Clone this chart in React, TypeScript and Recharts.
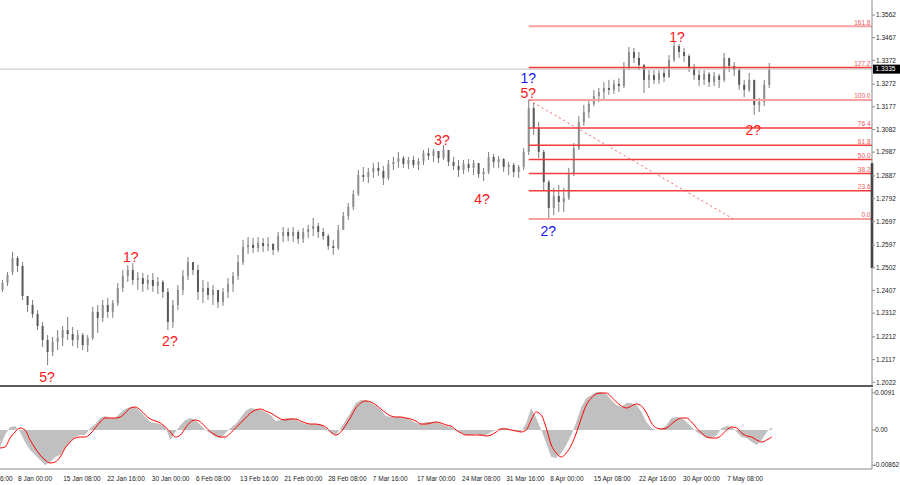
import React from "react";
import { ComposedChart, Bar, Line, Area, XAxis, YAxis, ReferenceLine, ReferenceDot } from "recharts";

// H4 chart, aggregated candles; slots across the plot width (empty space on the right)
const SLOTS = 174;

const opens = [
  1.2409, 1.2438, 1.2484, 1.2543, 1.2510, 1.2384, 1.2346, 1.2308, 1.2258, 1.2199,
  1.2149, 1.2191, 1.2208, 1.2241, 1.2224, 1.2199, 1.2220, 1.2178, 1.2208, 1.2317,
  1.2292, 1.2346, 1.2317, 1.2354, 1.2417, 1.2468, 1.2493, 1.2451, 1.2459, 1.2434,
  1.2451, 1.2426, 1.2443, 1.2401, 1.2275, 1.2346, 1.2409, 1.2468, 1.2526, 1.2493,
  1.2401, 1.2417, 1.2388, 1.2409, 1.2359, 1.2401, 1.2434, 1.2468, 1.2526, 1.2589,
  1.2598, 1.2585, 1.2606, 1.2593, 1.2602, 1.2577, 1.2635, 1.2652, 1.2635, 1.2652,
  1.2623, 1.2652, 1.2665, 1.2677, 1.2652, 1.2635, 1.2593, 1.2585, 1.2661, 1.2719,
  1.2757, 1.2811, 1.2891, 1.2883, 1.2904, 1.2921, 1.2908, 1.2879, 1.2937, 1.2946,
  1.2962, 1.2937, 1.2954, 1.2933, 1.2950, 1.2983, 1.2971, 1.2992, 1.2962, 1.2996,
  1.2946, 1.2929, 1.2912, 1.2937, 1.2921, 1.2941, 1.2895, 1.2904, 1.2967, 1.2946,
  1.2958, 1.2925, 1.2933, 1.2904, 1.2925, 1.2988, 1.3172, 1.3088, 1.2988, 1.2862,
  1.2753, 1.2803, 1.2778, 1.2795, 1.2895, 1.3004, 1.3113, 1.3155, 1.3189, 1.3222,
  1.3239, 1.3256, 1.3248, 1.3273, 1.3264, 1.3340, 1.3407, 1.3382, 1.3352, 1.3290,
  1.3310, 1.3290, 1.3319, 1.3302, 1.3373, 1.3432, 1.3407, 1.3390, 1.3340, 1.3310,
  1.3290, 1.3315, 1.3281, 1.3306, 1.3290, 1.3382, 1.3348, 1.3331, 1.3269, 1.3248,
  1.3290, 1.3185, 1.3197, 1.3269,
];
const highs = [
  1.2451, 1.2484, 1.2568, 1.2551, 1.2526, 1.2384, 1.2367, 1.2325, 1.2275, 1.2220,
  1.2212, 1.2241, 1.2258, 1.2296, 1.2254, 1.2241, 1.2229, 1.2220, 1.2338, 1.2346,
  1.2367, 1.2375, 1.2367, 1.2438, 1.2493, 1.2514, 1.2522, 1.2484, 1.2480, 1.2472,
  1.2480, 1.2463, 1.2451, 1.2417, 1.2367, 1.2430, 1.2493, 1.2547, 1.2526, 1.2514,
  1.2451, 1.2443, 1.2430, 1.2409, 1.2417, 1.2459, 1.2484, 1.2556, 1.2619, 1.2631,
  1.2627, 1.2631, 1.2627, 1.2631, 1.2606, 1.2652, 1.2673, 1.2669, 1.2673, 1.2661,
  1.2669, 1.2682, 1.2711, 1.2690, 1.2669, 1.2644, 1.2619, 1.2682, 1.2736, 1.2774,
  1.2828, 1.2912, 1.2925, 1.2921, 1.2941, 1.2946, 1.2929, 1.2954, 1.2967, 1.2988,
  1.2971, 1.2967, 1.2971, 1.2962, 1.2996, 1.3004, 1.3000, 1.2992, 1.3017, 1.2996,
  1.2967, 1.2954, 1.2954, 1.2958, 1.2954, 1.2941, 1.2921, 1.2988, 1.2979, 1.2971,
  1.2962, 1.2946, 1.2941, 1.2933, 1.3004, 1.3206, 1.3193, 1.3113, 1.2996, 1.2870,
  1.2837, 1.2849, 1.2837, 1.2921, 1.3025, 1.3138, 1.3185, 1.3206, 1.3248, 1.3256,
  1.3281, 1.3290, 1.3290, 1.3298, 1.3365, 1.3428, 1.3424, 1.3407, 1.3357, 1.3331,
  1.3331, 1.3331, 1.3340, 1.3394, 1.3449, 1.3440, 1.3424, 1.3399, 1.3357, 1.3331,
  1.3331, 1.3323, 1.3323, 1.3315, 1.3403, 1.3382, 1.3365, 1.3340, 1.3290, 1.3319,
  1.3290, 1.3214, 1.3290, 1.3361,
];
const lows = [
  1.2401, 1.2426, 1.2472, 1.2484, 1.2367, 1.2317, 1.2292, 1.2241, 1.2170, 1.2094,
  1.2132, 1.2157, 1.2174, 1.2199, 1.2174, 1.2166, 1.2157, 1.2149, 1.2199, 1.2229,
  1.2275, 1.2292, 1.2292, 1.2342, 1.2401, 1.2443, 1.2430, 1.2409, 1.2401, 1.2409,
  1.2401, 1.2392, 1.2375, 1.2241, 1.2250, 1.2325, 1.2388, 1.2451, 1.2472, 1.2367,
  1.2354, 1.2367, 1.2346, 1.2333, 1.2342, 1.2375, 1.2401, 1.2451, 1.2514, 1.2560,
  1.2564, 1.2568, 1.2568, 1.2572, 1.2556, 1.2568, 1.2610, 1.2614, 1.2610, 1.2602,
  1.2606, 1.2627, 1.2635, 1.2627, 1.2619, 1.2577, 1.2556, 1.2577, 1.2661, 1.2703,
  1.2744, 1.2803, 1.2862, 1.2858, 1.2879, 1.2887, 1.2849, 1.2870, 1.2912, 1.2921,
  1.2921, 1.2916, 1.2921, 1.2912, 1.2933, 1.2954, 1.2946, 1.2941, 1.2954, 1.2929,
  1.2912, 1.2883, 1.2895, 1.2904, 1.2891, 1.2879, 1.2866, 1.2895, 1.2921, 1.2921,
  1.2904, 1.2891, 1.2883, 1.2879, 1.2912, 1.2975, 1.3059, 1.2962, 1.2828, 1.2703,
  1.2723, 1.2736, 1.2736, 1.2786, 1.2887, 1.2996, 1.3097, 1.3130, 1.3180, 1.3197,
  1.3206, 1.3227, 1.3231, 1.3239, 1.3256, 1.3331, 1.3361, 1.3331, 1.3235, 1.3256,
  1.3273, 1.3273, 1.3281, 1.3298, 1.3365, 1.3382, 1.3365, 1.3323, 1.3290, 1.3264,
  1.3269, 1.3260, 1.3264, 1.3256, 1.3281, 1.3323, 1.3306, 1.3248, 1.3218, 1.3239,
  1.3143, 1.3155, 1.3180, 1.3256,
];
const closes = [
  1.2438, 1.2472, 1.2543, 1.2510, 1.2384, 1.2346, 1.2308, 1.2258, 1.2199, 1.2149,
  1.2191, 1.2208, 1.2241, 1.2224, 1.2199, 1.2220, 1.2178, 1.2208, 1.2317, 1.2292,
  1.2346, 1.2317, 1.2354, 1.2417, 1.2468, 1.2493, 1.2451, 1.2459, 1.2434, 1.2451,
  1.2426, 1.2443, 1.2401, 1.2275, 1.2346, 1.2409, 1.2468, 1.2526, 1.2493, 1.2401,
  1.2417, 1.2388, 1.2409, 1.2359, 1.2401, 1.2434, 1.2468, 1.2526, 1.2589, 1.2598,
  1.2585, 1.2606, 1.2593, 1.2602, 1.2577, 1.2635, 1.2652, 1.2635, 1.2652, 1.2623,
  1.2652, 1.2665, 1.2677, 1.2652, 1.2635, 1.2593, 1.2585, 1.2661, 1.2719, 1.2757,
  1.2811, 1.2891, 1.2883, 1.2904, 1.2921, 1.2908, 1.2879, 1.2937, 1.2946, 1.2962,
  1.2937, 1.2954, 1.2933, 1.2950, 1.2983, 1.2971, 1.2992, 1.2962, 1.2996, 1.2946,
  1.2929, 1.2912, 1.2937, 1.2921, 1.2941, 1.2895, 1.2904, 1.2967, 1.2946, 1.2958,
  1.2925, 1.2933, 1.2904, 1.2925, 1.2988, 1.3172, 1.3088, 1.2988, 1.2862, 1.2753,
  1.2803, 1.2778, 1.2795, 1.2895, 1.3004, 1.3113, 1.3155, 1.3189, 1.3222, 1.3239,
  1.3256, 1.3248, 1.3273, 1.3264, 1.3340, 1.3407, 1.3382, 1.3352, 1.3290, 1.3310,
  1.3290, 1.3319, 1.3302, 1.3373, 1.3432, 1.3407, 1.3390, 1.3340, 1.3310, 1.3290,
  1.3315, 1.3281, 1.3306, 1.3290, 1.3382, 1.3348, 1.3331, 1.3269, 1.3248, 1.3290,
  1.3185, 1.3197, 1.3269, 1.3335,
];

// MACD (main = grey histogram, signal = red line)
const macdHist = [
  -0.00418, -0.00123, 0.00074, 0.00098, -0.00049, -0.00295, -0.00491, -0.00614, -0.00737, -0.0086,
  -0.00786, -0.00663, -0.00614, -0.00442, -0.00295, -0.00172, -0.00123, -0.00123, 0.00049, 0.00147,
  0.00295, 0.00344, 0.00295, 0.00295, 0.00418, 0.00516, 0.00565, 0.00565, 0.00442, 0.00319,
  0.00197, 0.00172, 0.00147, 0.00074, -0.00246, -0.00049, 0.00123, 0.00246, 0.00295, 0.00246,
  0.00123, 0, -0.00074, -0.00172, -0.00197, -0.00074, 0.00049, 0.00147, 0.00295, 0.00467,
  0.00541, 0.00516, 0.00491, 0.00442, 0.00369, 0.00221, 0.00246, 0.00295, 0.00295, 0.0027,
  0.00197, 0.00147, 0.00147, 0.00147, 0.00147, 0.00049, -0.00074, -0.00123, 0.00049, 0.00246,
  0.00442, 0.00663, 0.00737, 0.00737, 0.00663, 0.0059, 0.00491, 0.00344, 0.00319, 0.00319,
  0.00319, 0.00295, 0.00246, 0.00172, 0.00147, 0.00197, 0.00197, 0.00197, 0.00147, 0.00098,
  0.00074, 0, -0.00074, -0.00123, -0.00123, -0.00098, -0.00147, -0.00123, -0.00049, 0,
  0.00049, 0.00049, 0, -0.00025, -0.00049, 0.00172, 0.00541, 0.00295, 0, -0.00319,
  -0.00663, -0.00688, -0.00565, -0.00369, -0.00123, 0.00197, 0.00565, 0.00786, 0.0086, 0.00934,
  0.00934, 0.00885, 0.00737, 0.00614, 0.00565, 0.00663, 0.00663, 0.00614, 0.00442, 0.00197,
  0.00049, 0, 0.00025, 0.00123, 0.00295, 0.00319, 0.00295, 0.00197, 0.00074, -0.00049,
  -0.00123, -0.00197, -0.00197, -0.00123, 0.00049, 0.00098, 0.00074, -0.00049, -0.00172, -0.00197,
  -0.00295, -0.00369, -0.00246, -0.00049, 0.00074,
];
const macdSignal = [
  -0.00442, -0.00418, -0.00197, -0.00049, 0.00049, 0, -0.00246, -0.00442, -0.00614, -0.00737,
  -0.00811, -0.00786, -0.00663, -0.00442, -0.00295, -0.00197, -0.00172, -0.00172, -0.00098, 0.00049,
  0.00197, 0.00295, 0.00295, 0.00295, 0.00319, 0.00418, 0.00541, 0.00565, 0.00491, 0.00369,
  0.0027, 0.00221, 0.00172, 0.00074, -0.00049, -0.00172, -0.00123, 0.00049, 0.00197, 0.00246,
  0.00197, 0.00074, -0.00049, -0.00123, -0.00172, -0.00172, -0.00074, 0.00049, 0.00172, 0.00295,
  0.00418, 0.00491, 0.00516, 0.00467, 0.00418, 0.00344, 0.0027, 0.00246, 0.0027, 0.0027,
  0.00221, 0.00172, 0.00147, 0.00147, 0.00123, 0.00074, -0.00049, -0.00123, -0.00049, 0.00123,
  0.00319, 0.00541, 0.00663, 0.00713, 0.00688, 0.00614, 0.00516, 0.00418, 0.00344, 0.00319,
  0.00319, 0.00295, 0.0027, 0.00221, 0.00147, 0.00147, 0.00172, 0.00197, 0.00172, 0.00123,
  0.00098, 0, -0.00074, -0.00123, -0.00123, -0.00123, -0.00123, -0.00147, -0.00123, -0.00049,
  0.00025, 0.00025, 0, -0.00025, -0.00049, 0, 0.00246, 0.00442, 0.00369, 0.00049,
  -0.00369, -0.00565, -0.00663, -0.00565, -0.00369, -0.00074, 0.00295, 0.00614, 0.00786, 0.00885,
  0.00909, 0.00909, 0.00811, 0.00688, 0.0059, 0.00541, 0.0059, 0.00639, 0.0059, 0.00418,
  0.00172, 0.00049, 0.00025, 0.00049, 0.00147, 0.00246, 0.00295, 0.00295, 0.00197, 0.00049,
  -0.00074, -0.00172, -0.00197, -0.00197, -0.00123, 0, 0.00074, 0.00049, -0.00074, -0.00147,
  -0.00172, -0.00246, -0.00295, -0.00246, -0.00172,
];

const priceTicks = [
  1.3562, 1.3467, 1.3372, 1.3272, 1.3177, 1.3082, 1.2987, 1.2887, 1.2792,
  1.2697, 1.2597, 1.2502, 1.2407, 1.2312, 1.2212, 1.2117, 1.2022,
];
const macdTicks = [0.0091, 0, -0.00862];
const macdTickLabels = ["0.0091", "0.00", "-0.00862"];

const timeLabels = [
  "31 Dec 16:00", "8 Jan 00:00", "15 Jan 08:00", "22 Jan 16:00", "30 Jan 00:00", "6 Feb 08:00",
  "13 Feb 16:00", "21 Feb 00:00", "28 Feb 08:00", "7 Mar 16:00", "17 Mar 00:00", "24 Mar 08:00",
  "31 Mar 16:00", "8 Apr 00:00", "15 Apr 08:00", "22 Apr 16:00", "30 Apr 00:00", "7 May 08:00",
];
const timeTickIdx = [
  -5.2, 3.6, 12.6, 21.4, 30.3, 39.1, 47.9, 56.7, 65.5, 74.4, 83.2, 92.2, 101.0, 109.8, 118.5, 127.5, 136.3, 145.1,
];

// fibonacci retracement drawn between the 5? top and its second anchor
const fibLevels = [0, 23.6, 38.2, 50, 61.8, 76.4, 100, 127.2, 161.8];
const fibLabels = ["0.0", "23.6", "38.2", "50.0", "61.8", "76.4", "100.0", "127.2", "161.8"];
const fibLow = 1.2707;
const fibHigh = 1.3206;
const fibStartIdx = 105.5;
const fibEndIdx = 146.3;

const lastPrice = 1.3335;
const scaleMarker = [1.2501, 1.2941];

const waveText = ["5?", "1?", "2?", "3?", "4?", "1?", "5?", "2?", "1?", "2?"];
const waveIdx = [9.4, 26.1, 33.9, 88.2, 96.2, 105.4, 105.4, 109.4, 135.1, 150.3];
const wavePrice = [1.2044, 1.2547, 1.2195, 1.3038, 1.2791, 1.3298, 1.3235, 1.2656, 1.3470, 1.3080];
const waveBlue = [false, false, false, false, false, true, false, true, false, false];

const AXIS_FONT = "'Liberation Sans', Arial, sans-serif";

const candles = opens.map((o, i) => ({
  x: i + 0.5,
  range: [lows[i], highs[i]],
  o,
  h: highs[i],
  l: lows[i],
  c: closes[i],
}));
const macd = macdHist.map((v, j) => ({ x: j, hist: v, signal: macdSignal[j] }));

const Candle = (props: any) => {
  const { x, y, width, height, payload } = props;
  if (x == null || y == null) return null;
  const top0 = Math.min(y, y + height);
  const hgt = Math.abs(height);
  const { o, h, l, c } = payload;
  const cx = x + width / 2;
  const span = h - l || 1;
  const yOf = (p: number) => top0 + ((h - p) / span) * hgt;
  const bTop = yOf(Math.max(o, c));
  const bBot = yOf(Math.min(o, c));
  return (
    <g>
      <line x1={cx} x2={cx} y1={top0} y2={top0 + hgt} stroke="#7c7c7c" strokeWidth={1} />
      <rect x={cx - 1} y={bTop} width={2} height={Math.max(bBot - bTop, 0.8)} fill={c >= o ? "#8e8e8e" : "#585858"} />
    </g>
  );
};

const PriceTick = ({ x, y, payload }: any) => (
  <text x={x} y={y} dy={2.3} fontSize={6.5} fill="#222" fontFamily={AXIS_FONT}>
    {Number(payload.value).toFixed(4)}
  </text>
);

const MacdTick = ({ x, y, payload }: any) => {
  const k = macdTicks.indexOf(payload.value);
  return (
    <text x={k === 2 ? x - 1.5 : x} y={y} dy={2.3} fontSize={6.5} fill="#222" fontFamily={AXIS_FONT}>
      {macdTickLabels[k]}
    </text>
  );
};

const TimeTick = ({ x, y, payload }: any) => {
  const k = timeTickIdx.indexOf(payload.value);
  return (
    <text x={x} y={y + 3.5} fontSize={6.5} fill="#222" fontFamily={AXIS_FONT}>
      {timeLabels[k]}
    </text>
  );
};

export default function App() {
  const fibPrice = (lv: number) => fibLow + ((fibHigh - fibLow) * lv) / 100;
  return (
    <div style={{ position: "absolute", left: 0, top: 0, width: 900, height: 485, background: "#fff", overflow: "hidden" }}>
      <div style={{ position: "absolute", left: 0, top: 0 }}>
        <ComposedChart width={900} height={386} data={candles} margin={{ top: 0, right: 0, bottom: 0, left: 0 }}>
          <XAxis type="number" dataKey="x" domain={[0, SLOTS]} hide allowDataOverflow />
          <YAxis
            orientation="right"
            width={28}
            domain={[1.20064, 1.36249]}
            allowDataOverflow
            ticks={priceTicks}
            interval={0}
            tick={PriceTick}
            tickSize={3}
            tickMargin={1}
            axisLine={{ stroke: "#8c8c8c" }}
            tickLine={{ stroke: "#8c8c8c" }}
          />
          <ReferenceLine y={lastPrice} stroke="#c4c4c4" strokeWidth={1} />
          {fibLevels.map((lv, k) => {
            const soft = lv === 0 || lv === 100 || lv === 161.8;
            return (
              <ReferenceLine
                key={"f" + k}
                segment={[{ x: fibStartIdx, y: fibPrice(lv) }, { x: SLOTS, y: fibPrice(lv) }]}
                stroke={soft ? "#f7a0a0" : "#f23c3c"}
                strokeWidth={soft ? 2 : 1.5}
                ifOverflow="visible"
              />
            );
          })}
          <ReferenceLine
            segment={[{ x: fibStartIdx, y: fibHigh }, { x: fibEndIdx, y: fibLow }]}
            stroke="#f06060"
            strokeDasharray="2 3"
            strokeWidth={1}
            ifOverflow="visible"
          />
          <Bar dataKey="range" barSize={3} shape={Candle} isAnimationActive={false} />
          {fibLevels.map((lv, k) => (
            <ReferenceDot
              key={"fl" + k}
              x={SLOTS}
              y={fibPrice(lv)}
              r={0}
              ifOverflow="visible"
              shape={(p: any) => (
                <text x={p.cx - 1.5} y={p.cy - 1.5} textAnchor="end" fontSize={6.5} fill="#f25a5a" fontFamily={AXIS_FONT}>
                  {fibLabels[k]}
                </text>
              )}
            />
          ))}
          {waveText.map((t, k) => (
            <ReferenceDot
              key={"w" + k}
              x={waveIdx[k]}
              y={wavePrice[k]}
              r={0}
              ifOverflow="visible"
              shape={(p: any) => (
                <text
                  x={p.cx}
                  y={p.cy}
                  dy="0.36em"
                  textAnchor="middle"
                  fontSize={14}
                  fill={waveBlue[k] ? "#1414ff" : "#ff1414"}
                  fontFamily={AXIS_FONT}
                >
                  {t}
                </text>
              )}
            />
          ))}
          <ReferenceLine
            segment={[{ x: SLOTS, y: scaleMarker[0] }, { x: SLOTS, y: scaleMarker[1] }]}
            stroke="#000"
            strokeWidth={2.5}
            ifOverflow="visible"
          />
          <ReferenceDot
            x={SLOTS}
            y={lastPrice}
            r={0}
            ifOverflow="visible"
            shape={(p: any) => (
              <g>
                <rect x={p.cx + 1} y={p.cy - 4.5} width={27} height={9} fill="#000" />
                <text x={p.cx + 3.5} y={p.cy} dy={2.3} fontSize={6.5} fill="#fff" fontFamily={AXIS_FONT}>
                  {lastPrice.toFixed(4)}
                </text>
              </g>
            )}
          />
        </ComposedChart>
      </div>
      <div style={{ position: "absolute", left: 0, top: 385, width: 873, height: 2, background: "#5a5a5a" }} />
      <div style={{ position: "absolute", left: 0, top: 388 }}>
        <ComposedChart width={900} height={97} data={macd} margin={{ top: 0, right: 0, bottom: 0, left: 0 }}>
          <XAxis
            type="number"
            dataKey="x"
            domain={[0, SLOTS]}
            allowDataOverflow
            ticks={timeTickIdx}
            interval={0}
            tick={TimeTick}
            tickLine={false}
            axisLine={{ stroke: "#8c8c8c" }}
            height={16}
          />
          <YAxis
            orientation="right"
            width={28}
            domain={[-0.00958, 0.01032]}
            allowDataOverflow
            ticks={macdTicks}
            interval={0}
            tick={MacdTick}
            tickSize={3}
            tickMargin={0}
            axisLine={{ stroke: "#8c8c8c" }}
            tickLine={{ stroke: "#8c8c8c" }}
          />
          <Area dataKey="hist" type="linear" stroke="none" fill="#c0c0c0" fillOpacity={1} baseValue={0} isAnimationActive={false} />
          <Line dataKey="signal" type="monotone" stroke="#ff0000" strokeWidth={1} dot={false} isAnimationActive={false} />
        </ComposedChart>
      </div>
    </div>
  );
}
